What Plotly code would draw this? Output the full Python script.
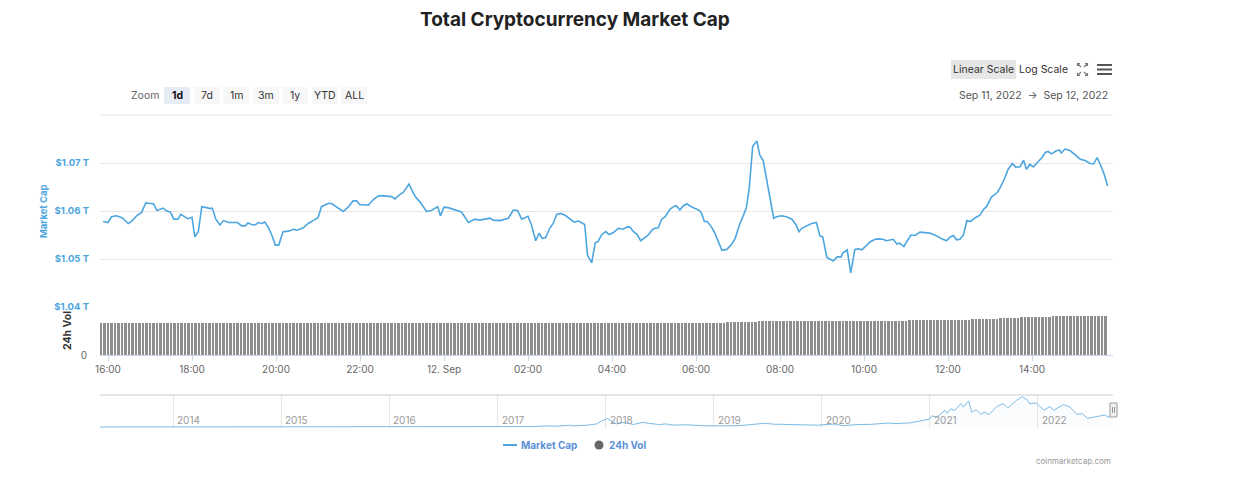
import plotly.graph_objects as go
import pandas as pd

# ---------------- data ----------------
# Market cap (billion USD), Sep 11 2022 part
day1_times = ["15:53","16:00","16:05","16:12","16:20","16:29","16:34","16:41","16:48","16:54",
              "16:58","17:05","17:10","17:19","17:24","17:29","17:34","17:40","17:44","17:50",
              "17:54","18:00","18:04","18:09","18:14","18:21","18:26","18:29","18:34","18:40",
              "18:45","18:52","18:59","19:05","19:11","19:16","19:20","19:25","19:30","19:35",
              "19:40","19:44","19:49","19:54","19:59","20:04","20:10","20:18","20:25","20:30",
              "20:39","20:46","20:53","21:00","21:05","21:15","21:20","21:27","21:36","21:43",
              "21:50","21:55","22:00","22:05","22:12","22:19","22:26","22:31","22:38","22:45",
              "22:50","22:55","23:02","23:10","23:14","23:19","23:26","23:35","23:42","23:51","23:55"]
day1_values = [1057.8,1057.6,1058.8,1059.0,1058.6,1057.4,1057.9,1059.0,1059.7,1061.7,
               1061.6,1061.5,1060.1,1060.6,1060.0,1059.8,1058.3,1058.3,1059.3,1058.8,
               1058.4,1058.7,1054.6,1055.7,1060.9,1060.7,1060.5,1060.6,1058.3,1057.1,
               1058.0,1057.6,1057.6,1057.6,1056.9,1056.9,1057.5,1057.2,1057.1,1057.6,
               1057.4,1057.7,1056.6,1055.0,1052.9,1052.9,1055.7,1055.8,1056.2,1056.0,
               1056.5,1057.4,1058.0,1058.6,1060.9,1061.6,1061.5,1060.8,1059.9,1060.8,
               1062.1,1062.1,1061.3,1061.3,1061.2,1062.4,1063.1,1063.2,1063.1,1063.0,
               1062.5,1063.2,1063.9,1065.6,1064.4,1063.0,1061.8,1059.9,1060.1,1060.9,1059.0]

# Sep 12 2022 part
day2_times = ["00:00","00:06","00:16","00:25","00:35","00:44","00:51","00:59","01:06","01:10",
              "01:20","01:32","01:39","01:45","01:51","02:00","02:05","02:11","02:16","02:20",
              "02:25","02:31","02:36","02:41","02:46","02:53","03:00","03:06","03:12","03:21",
              "03:25","03:31","03:36","03:40","03:45","03:51","03:56","04:02","04:09","04:16",
              "04:22","04:26","04:30","04:36","04:41","04:47","04:52","04:57","05:01","05:06",
              "05:11","05:16","05:23","05:29","05:32","05:37","05:42","05:47","05:52","05:59",
              "06:05","06:08","06:12","06:16","06:22","06:27","06:32","06:37","06:44","06:50",
              "06:56","07:02","07:08","07:12","07:16","07:21","07:27","07:31","07:36","07:41",
              "07:47","07:51","07:55","08:02","08:09","08:17","08:23","08:27","08:31","08:38",
              "08:45","08:52","08:57","09:01","09:07","09:11","09:16","09:22","09:27","09:30",
              "09:36","09:41","09:47","09:52","09:57","10:04","10:09","10:16","10:20","10:27",
              "10:32","10:42","10:47","10:51","10:57","11:01","11:07","11:13","11:20","11:27",
              "11:34","11:44","11:51","11:58","12:03","12:08","12:12","12:17","12:22","12:27",
              "12:32","12:39","12:46","12:50","12:55","13:02","13:10","13:14","13:20","13:26",
              "13:32","13:37","13:43","13:48","13:52","13:57","14:02","14:09","14:14","14:19",
              "14:23","14:28","14:34","14:39","14:42","14:47","14:54","15:01","15:09","15:16",
              "15:23","15:28","15:33","15:37","15:43","15:48"]
day2_values = [1060.8,1060.7,1060.2,1059.8,1057.6,1058.3,1058.1,1058.3,1058.5,1058.1,
               1058.0,1058.5,1060.2,1060.1,1058.3,1058.9,1057.1,1053.8,1055.4,1054.3,
               1054.4,1056.4,1057.4,1059.3,1059.5,1059.1,1058.4,1057.7,1057.9,1057.2,
               1050.8,1049.2,1053.4,1053.6,1055.0,1055.7,1055.1,1055.5,1056.4,1056.2,
               1056.7,1056.6,1055.8,1055.1,1053.8,1054.5,1055.0,1056.0,1056.4,1056.5,
               1058.3,1058.8,1060.4,1061.0,1061.1,1060.2,1061.1,1061.5,1061.0,1060.5,
               1060.1,1059.5,1057.8,1057.8,1056.7,1055.4,1053.6,1051.8,1052.0,1052.9,
               1054.3,1057.1,1059.2,1060.7,1064.7,1073.5,1074.6,1071.7,1070.5,1066.5,
               1061.6,1058.5,1058.8,1059.0,1058.8,1058.3,1057.1,1055.7,1056.4,1056.9,
               1057.4,1057.6,1054.8,1054.6,1050.3,1050.0,1049.6,1050.5,1050.4,1051.3,
               1051.9,1047.1,1052.0,1052.1,1051.9,1052.9,1053.6,1054.1,1054.2,1054.1,
               1053.8,1054.1,1053.1,1053.3,1052.6,1053.6,1055.0,1054.9,1055.6,1055.5,
               1055.4,1054.8,1054.2,1053.8,1054.6,1054.9,1054.0,1054.1,1055.0,1058.0,
               1057.8,1058.6,1059.2,1060.2,1060.9,1062.9,1063.8,1064.7,1066.5,1068.7,
               1069.9,1069.1,1069.2,1070.6,1068.7,1069.7,1069.2,1070.3,1071.1,1072.2,
               1072.4,1071.9,1072.5,1072.7,1072.1,1072.9,1072.6,1071.8,1070.8,1070.5,
               1069.9,1069.8,1071.1,1069.9,1067.7,1065.2]

# 24h volume (billion USD), one bar every 5 minutes from Sep 11 15:50 to Sep 12 15:45
volume_values = [
    70.6, 70.6,
    70.6,70.5,70.5,70.6,70.7,70.6,70.5,70.5,70.4,70.5,70.6,70.6,
    70.7,70.7,70.6,70.6,70.5,70.5,70.6,70.6,70.5,70.5,70.4,70.4,
    70.3,70.4,70.5,70.5,70.4,70.3,70.3,70.2,70.2,70.3,70.3,70.2,
    70.2,70.1,70.1,70.0,70.0,69.9,69.9,70.0,69.9,69.8,69.6,69.5,
    69.5,69.6,69.6,69.7,69.7,69.8,69.8,69.9,69.9,70.0,70.0,70.1,
    70.1,70.2,70.2,70.3,70.3,70.2,70.2,70.3,70.3,70.4,70.4,70.5,
    70.5,70.5,70.6,70.6,70.7,70.7,70.8,70.8,70.8,70.9,70.9,71.0,
    71.1,71.1,71.0,70.9,70.8,70.7,70.6,70.6,70.5,70.5,70.5,70.4,
    70.4,70.4,70.3,70.3,70.3,70.2,70.2,70.2,70.1,70.1,70.1,70.0,
    70.0,70.0,70.0,69.9,69.9,69.9,69.9,69.8,69.8,69.8,69.8,69.8,
    69.7,69.7,69.9,70.0,70.0,70.1,70.1,70.1,70.2,70.2,70.2,70.2,
    70.1,70.1,70.1,70.2,70.3,70.5,70.5,70.5,70.4,70.4,70.4,70.3,
    70.3,70.3,70.3,70.3,70.2,70.2,70.2,70.3,70.3,70.3,70.4,70.4,
    70.4,70.4,70.5,70.5,70.5,70.6,70.6,70.6,70.6,70.7,70.7,70.7,
    70.8,70.8,70.8,70.9,70.9,71.0,71.0,71.1,71.1,71.2,71.3,71.3,
    71.4,71.4,71.5,71.6,72.2,72.8,73.4,73.6,73.6,73.7,73.7,73.8,
    73.8,73.8,73.9,73.9,73.9,74.0,74.0,74.0,74.1,74.1,74.1,74.2,
    74.2,74.3,74.4,74.5,74.6,74.7,74.7,74.8,74.8,74.9,74.9,75.0,
    75.0,75.1,75.1,75.1,75.2,75.2,75.2,75.3,75.3,75.3,75.4,75.4,
    75.4,75.5,75.5,75.6,75.7,75.8,75.9,76.0,76.1,76.2,76.3,76.4,
    76.5,76.6,76.8,77.0,77.2,77.4,77.6,77.8,78.0,78.2,78.4,78.6,
    78.9,79.3,79.7,80.1,80.5,80.9,81.3,81.7,82.0,82.3,82.6,82.9,
    83.2,83.4,83.6,83.8,84.0,84.2,84.3,84.4,84.5,84.6,84.7,84.8,
    84.8,84.9,84.9,85.0,85.0,85.0,85.1,85.1,85.1,85.2,
]
volume_times = pd.date_range("2022-09-11 15:50", periods=len(volume_values), freq="5min")

# Navigator: full-history total market cap (trillion USD)
nav_dates = ["2013-04-28","2013-06-01","2013-08-01","2013-10-01","2013-11-15","2013-12-04",
             "2014-01-01","2014-02-01","2014-03-01","2014-05-01","2014-07-01","2014-09-01","2014-11-01",
             "2015-01-01","2015-03-01","2015-06-01","2015-09-01","2015-11-01",
             "2016-01-01","2016-03-01","2016-06-01","2016-09-01","2016-12-01",
             "2017-01-05","2017-03-01","2017-05-01","2017-06-12","2017-07-15","2017-09-01","2017-09-15",
             "2017-11-01","2017-12-01","2017-12-20",
             "2018-01-07","2018-02-06","2018-03-01","2018-04-06","2018-05-05","2018-06-29","2018-07-25",
             "2018-08-15","2018-10-01","2018-11-25","2018-12-15",
             "2019-02-01","2019-04-01","2019-05-30","2019-06-26","2019-07-20","2019-09-01","2019-10-01",
             "2019-11-01","2019-12-17",
             "2020-02-14","2020-03-13","2020-05-01","2020-06-15","2020-08-16","2020-09-05","2020-10-25",
             "2020-11-24","2020-12-31",
             "2021-01-08","2021-01-25","2021-02-21","2021-02-28","2021-03-13","2021-03-25","2021-04-16",
             "2021-04-24","2021-05-12","2021-05-23","2021-06-06","2021-06-22","2021-07-05","2021-07-20",
             "2021-08-15","2021-09-06","2021-09-21","2021-10-20","2021-11-09","2021-11-28","2021-12-04",
             "2021-12-27",
             "2022-01-22","2022-02-10","2022-02-24","2022-03-29","2022-04-20","2022-05-12","2022-06-01",
             "2022-06-18","2022-07-08","2022-07-30","2022-08-14","2022-08-28","2022-09-12"]
nav_values = [0.0016,0.0014,0.0012,0.0016,0.006,0.014,
              0.010,0.011,0.008,0.006,0.008,0.006,0.005,
              0.0045,0.0035,0.0035,0.0035,0.0055,
              0.007,0.007,0.011,0.011,0.013,
              0.018,0.022,0.04,0.11,0.075,0.17,0.11,
              0.18,0.30,0.62,
              0.83,0.30,0.45,0.25,0.45,0.24,0.30,
              0.19,0.22,0.12,0.10,
              0.11,0.14,0.27,0.37,0.28,0.27,0.22,
              0.25,0.18,
              0.29,0.13,0.24,0.26,0.39,0.33,0.40,
              0.55,0.77,
              1.10,0.95,1.65,1.35,1.80,1.60,2.30,
              1.95,2.55,1.45,1.70,1.25,1.45,1.22,
              2.00,2.30,1.85,2.60,2.97,2.60,2.30,
              2.35,
              1.65,2.00,1.65,2.20,1.95,1.25,1.30,
              0.85,0.96,1.10,1.17,0.98,1.07]

x_tick_vals = ["2022-09-11 16:00","2022-09-11 18:00","2022-09-11 20:00","2022-09-11 22:00",
               "2022-09-12 00:00","2022-09-12 02:00","2022-09-12 04:00","2022-09-12 06:00",
               "2022-09-12 08:00","2022-09-12 10:00","2022-09-12 12:00","2022-09-12 14:00"]
x_tick_text = ["16:00","18:00","20:00","22:00","12. Sep","02:00","04:00","06:00",
               "08:00","10:00","12:00","14:00"]
y_tick_vals = [1040, 1050, 1060, 1070, 1080]
y_tick_text = ["$1.04 T", "$1.05 T", "$1.06 T", "$1.07 T", ""]
nav_years = ["2014","2015","2016","2017","2018","2019","2020","2021","2022"]
zoom_buttons = ["1d", "7d", "1m", "3m", "1y", "YTD", "ALL"]

mc_times = ["2022-09-11 " + t for t in day1_times] + ["2022-09-12 " + t for t in day2_times]
mc_values = day1_values + day2_values

# ---------------- layout helpers ----------------
WIN_W, WIN_H = 1244, 503
OFF = 8                                      # page body margin of the html page
W, H = WIN_W - 2 * OFF, WIN_H - 2 * OFF - 8  # figure size so the page does not overflow
L, R = 100, 1113                             # plot area left/right in window pixels
FONT = "Inter"
MC_COLOR = "#4ea6df"
LEGEND_TEXT = "#5a8fd6"


def px(x):
    return (x - L) / (R - L)


def py(y):
    return 1 - (y - OFF) / H


def note(text, x, y, size, color, xanchor="center", yanchor="middle", **kw):
    return dict(text=text, x=px(x), y=py(y), xref="paper", yref="paper", showarrow=False,
                xanchor=xanchor, yanchor=yanchor,
                font=dict(family=FONT, size=size, color=color), **kw)


fig = go.Figure()

fig.add_trace(go.Bar(
    x=volume_times, y=volume_values, xaxis="x", yaxis="y2",
    marker=dict(color="#8e8e8e", line=dict(width=0)), width=175000,
    showlegend=False, name="24h Vol", hoverinfo="skip"))

fig.add_trace(go.Scatter(
    x=mc_times, y=mc_values, xaxis="x", yaxis="y", mode="lines",
    line=dict(color=MC_COLOR, width=1.6), name="Market Cap", showlegend=False))

fig.add_trace(go.Scatter(
    x=nav_dates, y=nav_values, xaxis="x3", yaxis="y3", mode="lines",
    line=dict(color="#7dbbe6", width=1), fill="tozeroy",
    fillcolor="rgba(125,187,230,0.04)", showlegend=False, hoverinfo="skip"))

shapes = []
annotations = []

# title
annotations.append(note("<b>Total Cryptocurrency Market Cap</b>", 575, 19, 19, "#222222"))

# top gridline (1.08 T) and navigator top outline
shapes.append(dict(type="line", xref="paper", yref="paper", x0=0, x1=1, y0=py(115), y1=py(115),
                   line=dict(color="#e6e6e6", width=1), layer="below"))
shapes.append(dict(type="line", xref="paper", yref="paper", x0=0, x1=1, y0=py(395), y1=py(395),
                   line=dict(color="#cccccc", width=1)))

# zoom buttons
annotations.append(note("Zoom", 145, 95.5, 10.5, "#666666"))
btn_centers = [177, 207, 236, 266, 295, 325, 354]
for lab, cx in zip(zoom_buttons, btn_centers):
    sel = lab == "1d"
    shapes.append(dict(type="rect", xref="paper", yref="paper",
                       x0=px(cx - 13), x1=px(cx + 13), y0=py(104), y1=py(87),
                       fillcolor="#e6ebf5" if sel else "#f7f7f7", line=dict(width=0)))
    annotations.append(note(f"<b>{lab}</b>" if sel else lab, cx, 95.5, 10.5,
                            "#111111" if sel else "#333333"))

# Linear / Log scale
shapes.append(dict(type="rect", xref="paper", yref="paper", x0=px(951), x1=px(1016),
                   y0=py(79), y1=py(60), fillcolor="#e6e6e6", line=dict(width=0)))
annotations.append(note("Linear Scale", 983.5, 69.5, 10.5, "#333333"))
annotations.append(note("Log Scale", 1043, 69.5, 10.5, "#333333"))


# fullscreen icon
def P(x, y):
    return f"{px(x):.5f},{py(y):.5f}"


icon = ("M " + P(1081, 67) + " L " + P(1077.5, 63.5) + " M " + P(1077.5, 66) + " L " + P(1077.5, 63.5) + " L " + P(1080, 63.5) +
        " M " + P(1084, 67) + " L " + P(1087.5, 63.5) + " M " + P(1085, 63.5) + " L " + P(1087.5, 63.5) + " L " + P(1087.5, 66) +
        " M " + P(1081, 72) + " L " + P(1077.5, 75.5) + " M " + P(1077.5, 73) + " L " + P(1077.5, 75.5) + " L " + P(1080, 75.5) +
        " M " + P(1084, 72) + " L " + P(1087.5, 75.5) + " M " + P(1085, 75.5) + " L " + P(1087.5, 75.5) + " L " + P(1087.5, 73))
shapes.append(dict(type="path", xref="paper", yref="paper", path=icon,
                   line=dict(color="#777777", width=1.2)))
# menu icon
for yy in (65, 69.5, 74):
    shapes.append(dict(type="line", xref="paper", yref="paper", x0=px(1097), x1=px(1112),
                       y0=py(yy), y1=py(yy), line=dict(color="#555555", width=2)))

# date range
annotations.append(note("Sep 11, 2022  \u2192  Sep 12, 2022", 1110, 96, 10.5, "#555555",
                        xanchor="right"))

# axis titles
annotations.append(note("<b>Market Cap</b>", 44, 211, 9.5, MC_COLOR, textangle=-90))
annotations.append(note("<b>24h Vol</b>", 67, 331, 10.5, "#333333", textangle=-90))

# navigator year labels
for yr in nav_years:
    annotations.append(dict(text=yr, x=f"{yr}-01-01", xref="x3", y=py(420), yref="paper",
                            xanchor="left", yanchor="middle", xshift=2, showarrow=False,
                            font=dict(family=FONT, size=10, color="#999999")))

# navigator handle
shapes.append(dict(type="rect", xref="paper", yref="paper", x0=px(1110), x1=px(1117),
                   y0=py(417), y1=py(403), fillcolor="#f2f2f2", line=dict(color="#999999", width=1)))
for xx in (1112.5, 1114.5):
    shapes.append(dict(type="line", xref="paper", yref="paper", x0=px(xx), x1=px(xx),
                       y0=py(413), y1=py(407), line=dict(color="#999999", width=1)))

# legend (drawn as items to match the original's compact layout)
shapes.append(dict(type="line", xref="paper", yref="paper", x0=px(503), x1=px(517),
                   y0=py(445), y1=py(445), line=dict(color=MC_COLOR, width=2)))
annotations.append(note("<b>Market Cap</b>", 519, 445, 10, LEGEND_TEXT, xanchor="left"))
shapes.append(dict(type="circle", xref="paper", yref="paper", x0=px(594.5), x1=px(603.5),
                   y0=py(449.5), y1=py(440.5), fillcolor="#666666", line=dict(width=0)))
annotations.append(note("<b>24h Vol</b>", 607, 445, 10, LEGEND_TEXT, xanchor="left"))

# credit
annotations.append(note("coinmarketcap.com", 1113, 461, 8, "#999999", xanchor="right"))

fig.update_layout(
    width=W, height=H, autosize=False,
    margin=dict(l=L - OFF, r=W - (R - OFF), t=0, b=0, autoexpand=False),
    paper_bgcolor="white", plot_bgcolor="white",
    font=dict(family=FONT, size=11, color="#666666"),
    bargap=0, showlegend=False,
    xaxis=dict(domain=[0, 1], anchor="y2", type="date",
               range=["2022-09-11 15:48:34", "2022-09-12 15:55:43"],
               tickmode="array", tickvals=x_tick_vals, ticktext=x_tick_text,
               showgrid=False, zeroline=False, showline=True, linecolor="#ccd6eb", linewidth=1,
               ticks="outside", ticklen=5, tickcolor="#ccd6eb",
               tickfont=dict(family=FONT, size=10, color="#666666")),
    yaxis=dict(domain=[py(307), py(115)], anchor="x", range=[1040, 1080],
               tickmode="array", tickvals=y_tick_vals, ticktext=y_tick_text,
               showgrid=True, gridcolor="#e6e6e6", zeroline=False, showline=False, ticks="",
               ticklabelstandoff=10,
               tickfont=dict(family=FONT, size=9.5, color=MC_COLOR, weight="bold")),
    yaxis2=dict(domain=[py(355), py(307)], anchor="x", range=[0, 105],
                tickmode="array", tickvals=[0], ticktext=["0"], showgrid=False,
                zeroline=False, showline=False, ticks="", ticklabelstandoff=12,
                tickfont=dict(family=FONT, size=10, color="#666666")),
    xaxis3=dict(domain=[0, 1], anchor="y3", type="date", range=["2013-04-28", "2022-09-12"],
                tickmode="array", tickvals=[f"{y}-01-01" for y in nav_years],
                showticklabels=False, showgrid=True, gridcolor="#e6e6e6", zeroline=False,
                showline=False, ticks=""),
    yaxis3=dict(domain=[py(428), py(395)], anchor="x3", range=[-0.1, 3.14],
                showticklabels=False, showgrid=False, zeroline=False, showline=False, ticks=""),
    shapes=shapes, annotations=annotations,
)

fig.write_html("out.html", config={"displayModeBar": False})
